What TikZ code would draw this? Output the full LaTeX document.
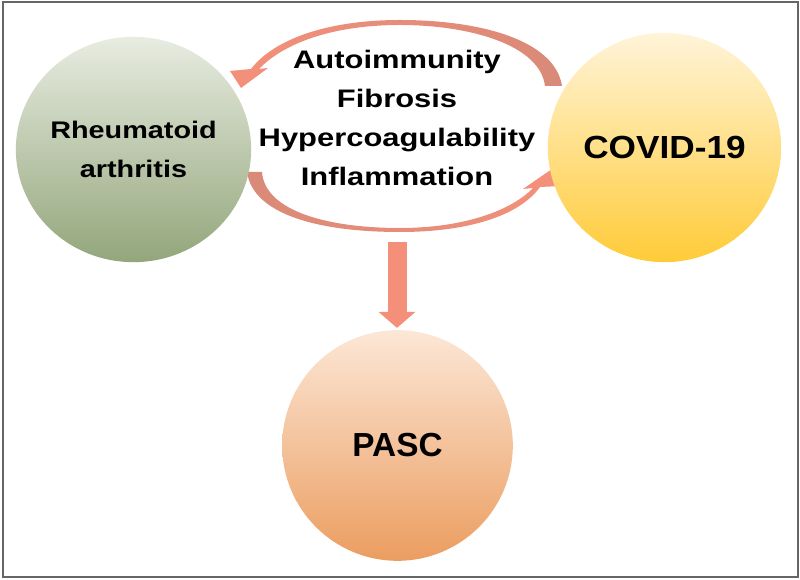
\documentclass[tikz,border=0pt]{standalone}
\usepackage{fontspec}
\setmainfont{Liberation Sans}
\usepackage{graphicx}
\usetikzlibrary{shapes.geometric,arrows.meta}

\definecolor{salmon}{HTML}{F4907A}
\definecolor{salmondark}{HTML}{D98A78}
\definecolor{raTop}{HTML}{E8ECE1}
\definecolor{raBot}{HTML}{93A67B}
\definecolor{covTop}{HTML}{FFF4D9}
\definecolor{covBot}{HTML}{FFCB38}
\definecolor{pascTop}{HTML}{FCE7D6}
\definecolor{pascBot}{HTML}{EB9D60}
\definecolor{framegray}{HTML}{666666}

% stretch a bold line sideways
\newcommand{\wide}[2][1.22]{\scalebox{#1}[1]{#2}}

\tikzset{
  ball/.style={ellipse, inner sep=0pt, align=center},
  loopline/.style={draw=none},
  downarrow/.style={salmon, line width=14.25pt, -{Triangle[width=27pt,length=12pt]}, shorten >=1.5pt},
}

\begin{document}
\begin{tikzpicture}[x=0.75pt,y=0.75pt,yscale=-1,xscale=1]
\useasboundingbox (0,0) rectangle (800,580);

%Shape: Rectangle [frame]
\draw [framegray, line width=1.5pt] (2.5,2.5) rectangle (797.5,577.5);

%Curved Arrow [top, to RA]
\shade [loopline, left color=salmon, right color=salmondark] (562,86) .. controls (555,40) and (480,20) .. (400,20) .. controls (330,20) and (275,38) .. (251,69) -- (230,71) -- (241,88) -- (268,68) -- (259,69) .. controls (285,42) and (335,25) .. (400,25) .. controls (470,25) and (540,45) .. (545,86) -- cycle;
%Curved Arrow [bottom, to COVID]
\shade [loopline, left color=salmondark, right color=salmon] (247,172) .. controls (253,215) and (320,232) .. (400,232) .. controls (470,232) and (520,215) .. (540,187) -- (561,186) -- (552,169) -- (523,189) -- (533,188) .. controls (512,210) and (465,228) .. (400,228) .. controls (330,228) and (265,212) .. (262,172) -- cycle;

%Shape: Circle [RA]
\node [ball, minimum width=173pt, minimum height=169pt, top color=raTop, bottom color=raBot, font=\fontsize{18}{29.25}\selectfont\bfseries] (ra) at (133.5,149.5) {\wide[1.2]{Rheumatoid}\\\wide[1.2]{arthritis}};
%Shape: Circle [COVID]
\node [ball, minimum width=175pt, minimum height=172pt, top color=covTop, bottom color=covBot, font=\fontsize{24}{29}\selectfont\bfseries] (covid) at (664.5,147.5) {\wide[1.1]{COVID-19}};
%Shape: Circle [PASC]
\node [ball, minimum width=173pt, minimum height=173pt, top color=pascTop, bottom color=pascBot, font=\fontsize{25}{30}\selectfont\bfseries] (pasc) at (397.5,445.5) {PASC};

% Text Node
\node [inner sep=0pt, align=center, font=\fontsize{19}{29.25}\selectfont\bfseries] (mech) at (397,118) {\wide{Autoimmunity}\\\wide{Fibrosis}\\\wide{Hypercoagulability}\\\wide{Inflammation}};

%Straight Lines [down arrow]
\coordinate (loopbot) at (397,242);
\draw [downarrow] (loopbot) -- (loopbot |- pasc.north);
\end{tikzpicture}
\end{document}
